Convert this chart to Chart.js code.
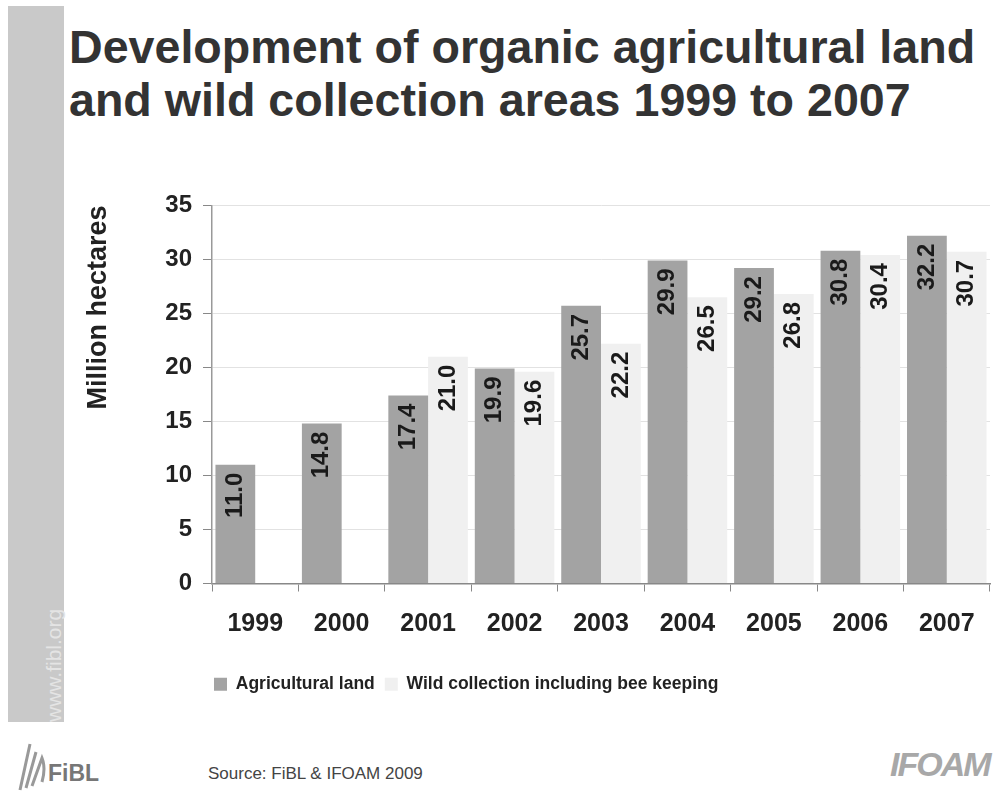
<!DOCTYPE html>
<html>
<head>
<meta charset="utf-8">
<script src="https://cdn.jsdelivr.net/npm/chart.js@4.4.1/dist/chart.umd.min.js"></script>
<style>
  body { margin: 0; background: #fff; width: 997px; height: 804px; overflow: hidden; position: relative; font-family: 'Liberation Sans', Arial, sans-serif; }
  #sidebar { position: absolute; left: 8px; top: 6px; width: 56px; height: 716px; background: #c9c9c9; }
  #site { position: absolute; left: 42px; top: 722px; transform-origin: 0 0; transform: rotate(-90deg); color: #e4e4e4; font-size: 21px; white-space: nowrap; }
  #title { position: absolute; left: 69px; top: 21px; font-size: 46.6px; font-weight: bold; line-height: 53px; color: #333; white-space: nowrap; }
  #wrap { position: absolute; left: 70px; top: 180px; width: 927px; height: 535px; }
  #source { position: absolute; left: 208px; top: 764px; font-size: 17px; color: #444; }
  #fibl { position: absolute; left: 48px; top: 760px; font-size: 23px; font-weight: bold; color: #777; }
  #ifoam { position: absolute; left: 890px; top: 745px; font-size: 34px; font-style: italic; font-weight: bold; color: #a8a8a8; letter-spacing: -2px; }
</style>
</head>
<body>
<div id="sidebar"></div>
<div id="site">www.fibl.org</div>
<div id="title">Development of organic agricultural land<br>and wild collection areas 1999 to 2007</div>
<div id="wrap"><canvas id="chart" width="927" height="535"></canvas></div>
<svg style="position:absolute;left:12px;top:738px" width="40" height="56">
  <path d="M8 52 L18 6 M14 50 L24 14 M20 48 L30 20 Q34 30 30 44" stroke="#999" stroke-width="3" fill="none"/>
</svg>
<div id="fibl">FiBL</div>
<div id="source">Source: FiBL &amp; IFOAM 2009</div>
<div id="ifoam">IFOAM</div>
<script>
const years = ['1999', '2000', '2001', '2002', '2003', '2004', '2005', '2006', '2007'];
const agriculturalLand = [11.0, 14.8, 17.4, 19.9, 25.7, 29.9, 29.2, 30.8, 32.2];
const wildCollection = [null, null, 21.0, 19.6, 22.2, 26.5, 26.8, 30.4, 30.7];
const yTicks = [0, 5, 10, 15, 20, 25, 30, 35];

Chart.defaults.font.family = "'Liberation Sans', Arial, sans-serif";
Chart.defaults.font.weight = 'bold';
Chart.defaults.color = '#222';

// value labels, rotated, inside the top of each bar
const barLabels = {
  id: 'barLabels',
  afterDatasetsDraw(chart) {
    const ctx = chart.ctx;
    ctx.save();
    ctx.font = "bold 24px 'Liberation Sans', Arial, sans-serif";
    ctx.fillStyle = '#1a1a1a';
    ctx.textAlign = 'right';
    ctx.textBaseline = 'middle';
    chart.data.datasets.forEach((ds, i) => {
      chart.getDatasetMeta(i).data.forEach((bar, j) => {
        const v = ds.data[j];
        if (v == null) return;
        ctx.save();
        ctx.translate(bar.x, bar.y + 8);
        ctx.rotate(-Math.PI / 2);
        ctx.fillText(v.toFixed(1), 0, 0);
        ctx.restore();
      });
    });
    ctx.restore();
  }
};

// legend sits left of centre in the original
const legendShift = {
  id: 'legendShift',
  afterLayout(chart) {
    chart.legend.left = 134;
  }
};

new Chart(document.getElementById('chart'), {
  type: 'bar',
  data: {
    labels: years,
    datasets: [
      { label: 'Agricultural land', data: agriculturalLand, backgroundColor: '#a3a3a3' },
      { label: 'Wild collection including bee keeping', data: wildCollection, backgroundColor: '#f0f0f0' }
    ]
  },
  options: {
    responsive: false,
    devicePixelRatio: 1,
    animation: false,
    categoryPercentage: 0.92,
    barPercentage: 1,
    layout: { padding: { top: 15, right: 7, bottom: 12, left: 0 } },
    plugins: {
      legend: {
        position: 'bottom',
        align: 'start',
        labels: { boxWidth: 13, boxHeight: 13, padding: 10, font: { size: 17.5, weight: 'bold' }, color: '#222' }
      },
      tooltip: { enabled: false }
    },
    scales: {
      x: {
        grid: { display: true, drawOnChartArea: false, tickLength: 8, tickColor: '#888' },
        border: { color: '#888', width: 1.5 },
        ticks: { padding: 18, font: { size: 25 } },
        afterFit(scale) { scale.height = 82; }
      },
      y: {
        min: 0,
        max: 35,
        afterBuildTicks(scale) { scale.ticks = yTicks.map(v => ({ value: v })); },
        grid: { color: '#e2e2e2', tickLength: 9, tickColor: '#888' },
        border: { color: '#999', width: 1.5 },
        ticks: { padding: 11, font: { size: 24 } },
        title: { display: true, text: 'Million hectares', align: 'end', font: { size: 27, weight: 'bold' }, padding: { top: 12, bottom: 0 } },
        afterFit(scale) { scale.width = 142; }
      }
    }
  },
  plugins: [barLabels, legendShift]
});
</script>
</body>
</html>
